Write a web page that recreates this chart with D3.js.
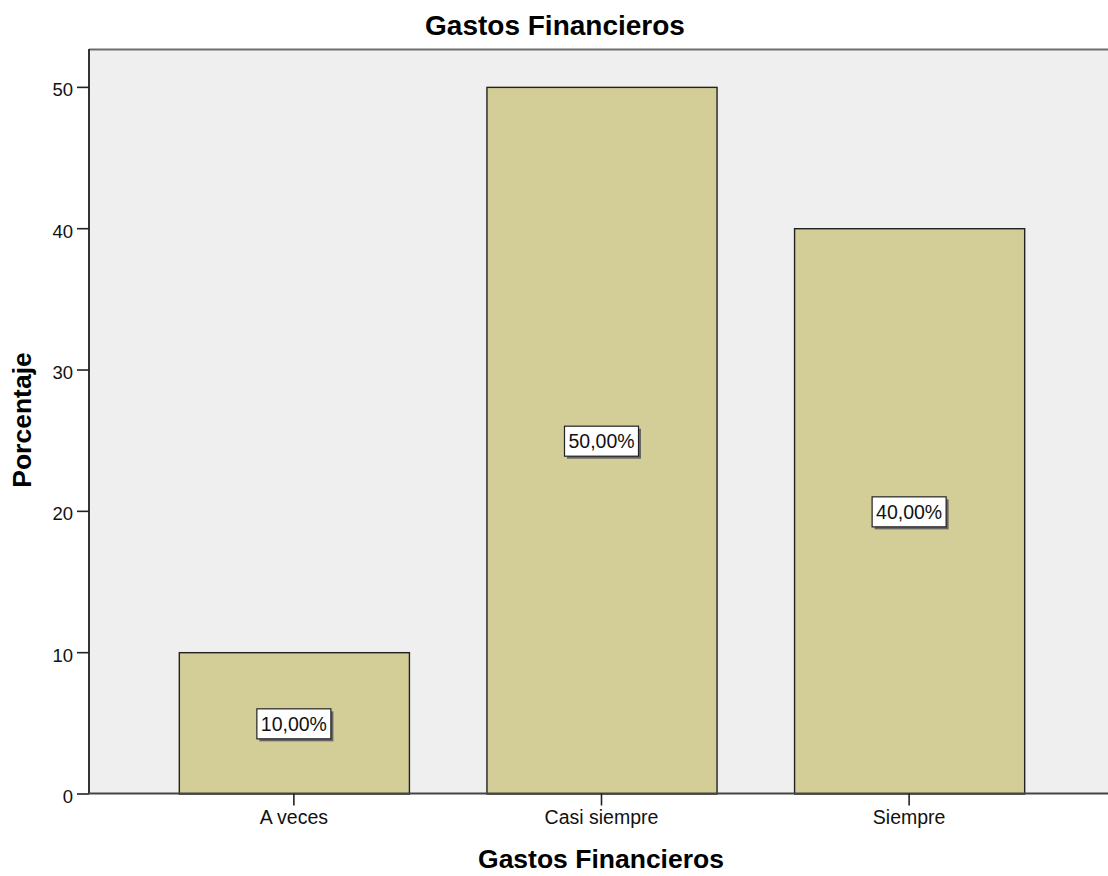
<!DOCTYPE html>
<html>
<head>
<meta charset="utf-8">
<script src="https://cdn.jsdelivr.net/npm/d3@7/dist/d3.min.js"></script>
<style>
  html, body { margin: 0; padding: 0; background: #ffffff; }
  svg { display: block; font-family: "Liberation Sans", Arial, sans-serif; }
</style>
</head>
<body>
<svg id="chart" width="1108" height="876"></svg>
<script>
// Porcentaje por categoría de "Gastos Financieros"
const categories = ["A veces", "Casi siempre", "Siempre"];
const percentages = [10, 50, 40];
const valueLabels = ["10,00%", "50,00%", "40,00%"];
const yTicks = [0, 10, 20, 30, 40, 50];

const svg = d3.select("#chart");
const plotLeft = 89, plotTop = 49, plotBottom = 793.5, plotRight = 1114;

const x = d3.scaleBand()
  .domain(categories)
  .range([plotLeft, plotRight])
  .paddingInner(0.252)
  .paddingOuter(0.292);

const y = d3.scaleLinear()
  .domain([0, 52.68])
  .range([plotBottom, plotTop]);

// plot background
svg.append("rect")
  .attr("x", plotLeft).attr("y", plotTop)
  .attr("width", 1108 - plotLeft).attr("height", plotBottom - plotTop)
  .attr("fill", "#efefef");

// top frame line
svg.append("line")
  .attr("x1", plotLeft).attr("x2", 1108)
  .attr("y1", plotTop + 0.5).attr("y2", plotTop + 0.5)
  .attr("stroke", "#6e6e6e").attr("stroke-width", 2);

// bars
svg.append("g").selectAll("rect")
  .data(categories)
  .join("rect")
  .attr("x", d => x(d) + 0.5)
  .attr("y", (d, i) => y(percentages[i]) + 0.5)
  .attr("width", x.bandwidth())
  .attr("height", (d, i) => y(0) - y(percentages[i]))
  .attr("fill", "#d3ce97")
  .attr("stroke", "#222222")
  .attr("stroke-width", 1.4);

// y axis
const yAxis = svg.append("g")
  .attr("transform", `translate(${plotLeft},0)`)
  .call(d3.axisLeft(y).tickValues(yTicks).tickSize(12).tickPadding(4).tickFormat(d3.format("d")));
yAxis.select(".domain").attr("stroke", "#333333").attr("stroke-width", 2).attr("d", `M0,${plotTop}V${plotBottom}`);
yAxis.selectAll(".tick line").attr("stroke", "#222222").attr("stroke-width", 1.6);
yAxis.selectAll(".tick text").attr("font-size", 18.5).attr("fill", "#111111").attr("dy", "0.48em");

// x axis
const xAxis = svg.append("g")
  .attr("transform", `translate(0,${plotBottom})`)
  .call(d3.axisBottom(x).tickSize(12).tickPadding(5));
xAxis.select(".domain").attr("stroke", "#444444").attr("stroke-width", 2).attr("d", `M${plotLeft},0H1108`);
xAxis.selectAll(".tick line").attr("stroke", "#222222").attr("stroke-width", 1.6);
xAxis.selectAll(".tick text").attr("font-size", 19.5).attr("fill", "#111111");

// value labels in the middle of each bar
const labels = svg.append("g").selectAll("g")
  .data(categories)
  .join("g")
  .attr("transform", (d, i) => `translate(${x(d) + x.bandwidth() / 2 + 0.5},${y(percentages[i] / 2) + 2})`);
labels.append("rect")
  .attr("x", -35).attr("y", -13.5).attr("width", 74).attr("height", 30)
  .attr("fill", "#666666");
labels.append("rect")
  .attr("x", -37.5).attr("y", -16).attr("width", 74).attr("height", 30)
  .attr("fill", "#ffffff").attr("stroke", "#222222").attr("stroke-width", 1.2);
labels.append("text")
  .attr("x", -0.5).attr("y", -1)
  .attr("dy", "0.35em")
  .attr("text-anchor", "middle")
  .attr("font-size", 19.5)
  .attr("fill", "#111111")
  .text((d, i) => valueLabels[i]);

// titles
svg.append("text")
  .attr("x", 555).attr("y", 35)
  .attr("text-anchor", "middle")
  .attr("font-size", 28).attr("font-weight", "bold")
  .text("Gastos Financieros");

svg.append("text")
  .attr("x", 601).attr("y", 868)
  .attr("text-anchor", "middle")
  .attr("font-size", 26.5).attr("font-weight", "bold")
  .text("Gastos Financieros");

svg.append("text")
  .attr("transform", "translate(31,420) rotate(-90)")
  .attr("text-anchor", "middle")
  .attr("font-size", 26.5).attr("font-weight", "bold")
  .text("Porcentaje");
</script>
</body>
</html>
